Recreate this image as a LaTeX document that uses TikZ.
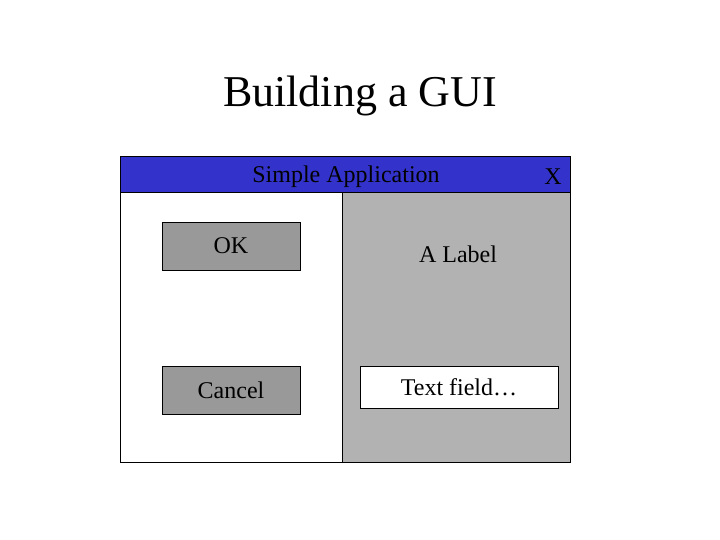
\documentclass[tikz,border=0pt]{standalone}
\usepackage{fontspec}
\setmainfont{Liberation Serif}
\usepackage{xcolor}
\usetikzlibrary{positioning}

\definecolor{barblue}{HTML}{3333CC}
\definecolor{btngray}{HTML}{999999}
\definecolor{panelgray}{HTML}{B2B2B2}

\begin{document}
\begin{tikzpicture}[
  x=1pt, y=-1pt,
  box/.style={draw, line width=0.8pt, inner sep=0pt, anchor=center},
  winbar/.style={box, fill=barblue, minimum width=450pt, minimum height=36pt},
  panel/.style={box, minimum height=270pt},
  button/.style={box, fill=btngray, minimum width=138pt, minimum height=48pt, font=\fontsize{24}{28}\selectfont},
  field/.style={box, fill=white, minimum width=198pt, minimum height=42pt, font=\fontsize{24}{28}\selectfont},
  txt/.style={inner sep=0pt, font=\fontsize{24}{28}\selectfont}
]
  \useasboundingbox (0,0) rectangle (720,540);

  % Slide title
  \node[inner sep=0pt, font=\fontsize{44}{50}\selectfont] (heading) at (360,96) {Building a GUI};

  % Window frame
  \node[winbar] (bar) at (345,174) {};
  \node[panel, fill=white, minimum width=222pt] (leftpane) at (231,327) {};
  \node[panel, fill=panelgray, minimum width=228pt] (rightpane) at (456,327) {};
  \node[txt] (apptitle) at (346,177) {Simple Application};
  \node[txt] (close) at (553,177) {X};

  % Left pane: buttons
  \node[button] (ok) at (231,246) {OK};
  \node[button] (cancel) at (231,390) {Cancel};

  % Right pane: label and text field
  \node[txt] (label) at (458,254) {A Label};
  \node[field] (textfield) at (459,387) {Text field\ldots};
\end{tikzpicture}
\end{document}
